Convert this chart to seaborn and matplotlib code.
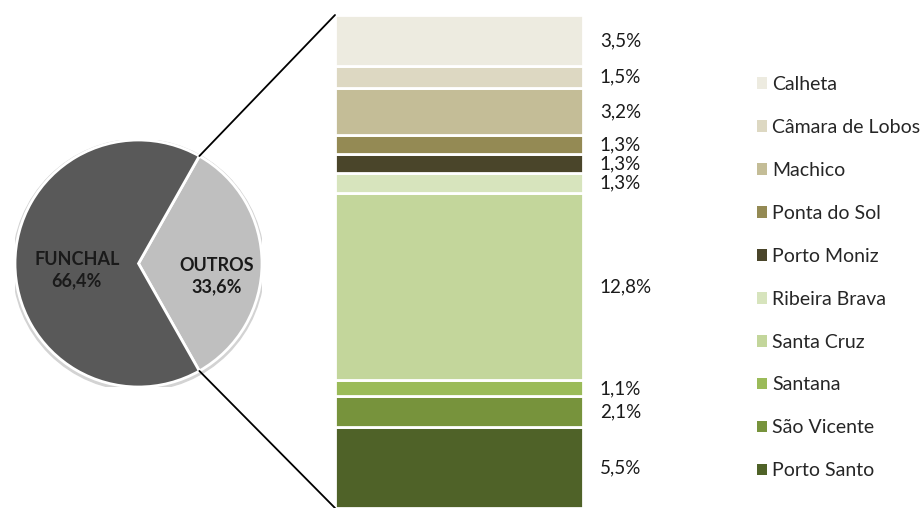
import matplotlib
matplotlib.use("Agg")
import matplotlib.pyplot as plt
import numpy as np
import seaborn as sns
from matplotlib.patches import Patch, ConnectionPatch, Circle

sns.set_theme(style="white")
plt.rcParams["font.family"] = ["Lato", "DejaVu Sans"]

# Pie: share of the capital vs. the rest
pie_labels = ["OUTROS", "FUNCHAL"]
pie_values = [33.6, 66.4]
pie_colors = ["#BFBFBF", "#595959"]

# Breakdown of "OUTROS", listed from the bottom of the bar to the top
municipios = ["Porto Santo", "São Vicente", "Santana", "Santa Cruz", "Ribeira Brava",
              "Porto Moniz", "Ponta do Sol", "Machico", "Câmara de Lobos", "Calheta"]
valores = [5.5, 2.1, 1.1, 12.8, 1.3, 1.3, 1.3, 3.2, 1.5, 3.5]
cores = ["#4F6228", "#77933C", "#9BBB59", "#C3D69B", "#D7E4BD",
         "#4A452A", "#948A54", "#C4BD97", "#DDD8C2", "#EDEBE0"]

W, H = 924, 508
fig = plt.figure(figsize=(W / 100, H / 100), dpi=100)
fig.patch.set_facecolor("white")

# ---- pie ----
cx, cy, r = 138.5, 263.5, 123.5
ax_pie = fig.add_axes([(cx - r) / W, (H - cy - r) / H, 2 * r / W, 2 * r / H])

start = -pie_values[0] * 3.6 / 2
shadow = Circle((0.0, -0.012), 1.018, color="#D3D3D3", zorder=0)
ax_pie.add_patch(shadow)
wedges, _ = ax_pie.pie(pie_values, colors=pie_colors, startangle=start, counterclock=True,
                       radius=1.0, wedgeprops=dict(edgecolor="white", linewidth=2))
ax_pie.set_xlim(-1.0, 1.0)
ax_pie.set_ylim(-1.0, 1.0)
ax_pie.set_aspect("equal")
ax_pie.axis("off")

label_r = {"OUTROS": 0.63, "FUNCHAL": 0.50}
for w, lab, val in zip(wedges, pie_labels, pie_values):
    mid = np.deg2rad((w.theta1 + w.theta2) / 2)
    rr = label_r[lab]
    dy = -0.10 if lab == "OUTROS" else -0.05
    ax_pie.text(rr * np.cos(mid), rr * np.sin(mid) + dy,
                f"{lab}\n{val:.1f}%".replace(".", ","),
                ha="center", va="center", fontsize=13, fontweight="bold",
                color="#1a1a1a", linespacing=1.3)

# ---- stacked bar ----
ax_bar = fig.add_axes([335 / W, 0, 248 / W, 493 / H])
total = float(np.sum(valores))
bottom = 0.0
for nome, v, c in zip(municipios, valores, cores):
    sns.barplot(x=[0], y=[v], bottom=bottom, color=c, width=1.0, ax=ax_bar,
                edgecolor="white", linewidth=2, saturation=1, native_scale=True)
    ax_bar.text(0.568, bottom + v / 2, f"{v:.1f}%".replace(".", ","),
                ha="left", va="center", fontsize=13.5, color="#1a1a1a", clip_on=False)
    bottom += v
ax_bar.set_xlim(-0.5, 0.5)
ax_bar.set_ylim(0, total)
ax_bar.axis("off")

# ---- connector lines from the OUTROS wedge to the bar ----
w_out = wedges[0]
for ang, yb in [(w_out.theta2, total), (w_out.theta1, 0.0)]:
    a = np.deg2rad(ang)
    con = ConnectionPatch(xyA=(np.cos(a), np.sin(a)), coordsA=ax_pie.transData,
                          xyB=(-0.5, yb), coordsB=ax_bar.transData,
                          color="black", linewidth=1.3)
    fig.add_artist(con)

# ---- legend (top to bottom) ----
handles = [Patch(facecolor=c, edgecolor="none") for c in cores[::-1]]
fig.legend(handles, municipios[::-1], loc="upper left",
           bbox_to_anchor=(749 / W, 1 - 68 / H), frameon=False, fontsize=14,
           handlelength=0.5, handleheight=0.55, handletextpad=0.3,
           labelspacing=1.335, borderaxespad=0)

fig.savefig("out.png", dpi=100, facecolor="white")
